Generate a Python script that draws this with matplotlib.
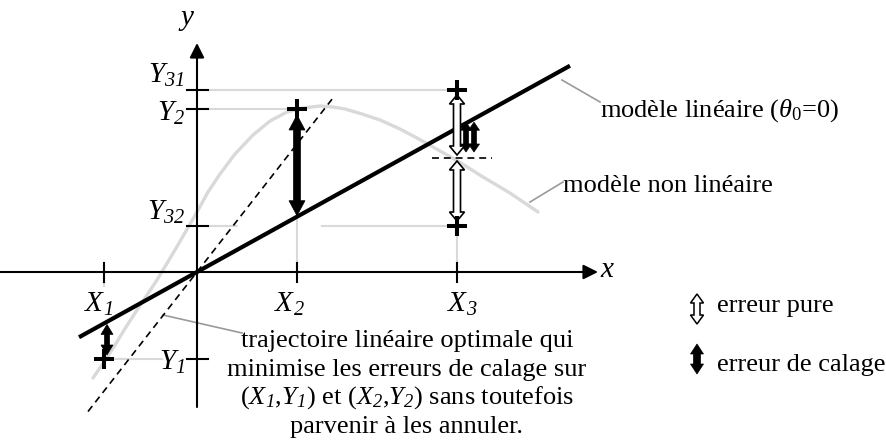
import matplotlib
matplotlib.use("Agg")
import matplotlib.pyplot as plt
from matplotlib.patches import Polygon

plt.rcParams["font.family"] = ["Liberation Serif", "DejaVu Serif"]
plt.rcParams["mathtext.fontset"] = "custom"
plt.rcParams["mathtext.rm"] = "Liberation Serif"
plt.rcParams["mathtext.it"] = "Liberation Serif:italic"
# \mathsf is used for fully italic labels (italic subscripts too)
plt.rcParams["mathtext.sf"] = "Liberation Serif:italic"
plt.rcParams["lines.scale_dashes"] = False

# observed points (X1,Y1), (X2,Y2), (X3,Y31), (X3,Y32)
X_VALS = [-93, 100, 260]
X_NAMES = [r"$\mathsf{X_1}$", r"$\mathsf{X_2}$", r"$\mathsf{X_3}$"]
Y_VALS = [182, 163, 46, -87]
Y_NAMES = [r"$\mathsf{Y_{31}}$", r"$\mathsf{Y_2}$", r"$\mathsf{Y_{32}}$", r"$\mathsf{Y_1}$"]
OBS_X = [-93, 100, 260, 260]
OBS_Y = [-87, 163, 182, 46]

# linear model y = theta1 * x, and the steeper trajectory (dashed)
THETA1 = 0.553
LIN_X = [-118, 373]
DASH_SLOPE = 1.28
DASH_X = [-109, 135]

# non-linear model
CURVE_X = [-104, -93, -82, -71, -60, -50, -40, -31, -22, -11, 0, 11, 23, 38,
           56, 73, 90, 106, 123, 136, 148, 165, 183, 203, 220, 236, 259, 286, 313, 341]
CURVE_Y = [-106, -90, -73, -55, -38, -23, -8, 7, 22, 41, 60, 80, 98, 118,
           137, 151, 160, 164, 166, 165, 163, 158, 152, 143, 134, 125, 112, 95, 79, 60]

LIGHT = "#d9d9d9"
LEAD = "#9a9a9a"


def double_arrow(ax, x, y0, y1, shaft, head, hlen, face, lw=1.0, z=6):
    pts = [(x - shaft / 2, y0 + hlen), (x - head / 2, y0 + hlen), (x, y0),
           (x + head / 2, y0 + hlen), (x + shaft / 2, y0 + hlen),
           (x + shaft / 2, y1 - hlen), (x + head / 2, y1 - hlen), (x, y1),
           (x - head / 2, y1 - hlen), (x - shaft / 2, y1 - hlen)]
    ax.add_patch(Polygon(pts, closed=True, facecolor=face, edgecolor="black",
                         lw=lw, joinstyle="miter", zorder=z))


fig = plt.figure(figsize=(8.87, 4.44), dpi=100)
ax = fig.add_axes([0, 0, 1, 1])
ax.set_xlim(-197, 690)
ax.set_ylim(-172, 272)
ax.axis("off")

# non-linear curve
ax.plot(CURVE_X, CURVE_Y, color=LIGHT, lw=2.4, solid_joinstyle="round",
        solid_capstyle="round", zorder=1)

# light guide lines
x1, x2, x3 = X_VALS
y31, y2, y32, y1 = Y_VALS
ax.plot([10, x3], [y31, y31], color=LIGHT, lw=1.5, zorder=1)
ax.plot([10, x2], [y2, y2], color=LIGHT, lw=1.5, zorder=1)
ax.plot([10, x3], [y32, y32], color=LIGHT, lw=1.5, zorder=1,
        linestyle=(0, (22, 60, 200, 0)))
ax.plot([x1, -35], [y1, y1], color=LIGHT, lw=1.5, zorder=1)
ax.plot([x2, x2], [0, y2], color=LIGHT, lw=1.5, zorder=1)
ax.plot([x3, x3], [0, y32], color=LIGHT, lw=1.5, zorder=1)
ax.plot([x1, x1], [0, -14], color=LIGHT, lw=1.5, zorder=1)

# axes with arrows
ax.annotate("", xy=(401, 0), xytext=(-197, 0),
            arrowprops=dict(arrowstyle="-|>", lw=1.5, color="black",
                            mutation_scale=22, shrinkA=0, shrinkB=0), zorder=3)
ax.annotate("", xy=(0, 229), xytext=(0, -135),
            arrowprops=dict(arrowstyle="-|>", lw=1.5, color="black",
                            mutation_scale=22, shrinkA=0, shrinkB=0), zorder=3)
ax.text(410, 2, "x", fontsize=21, style="italic", ha="center", va="center")
ax.text(-10, 254, "y", fontsize=21, style="italic", ha="center", va="center")

# ticks and tick labels
for xv, name, dx in zip(X_VALS, X_NAMES, [-5, -8, 5]):
    ax.plot([xv, xv], [-10, 9], color="black", lw=1.5, zorder=3)
    ax.text(xv + dx, -32, name, fontsize=21, ha="center", va="center")
for yv, name, dy in zip(Y_VALS, Y_NAMES, [15, -4, 14, -3]):
    ax.plot([-10, 11], [yv, yv], color="black", lw=1.5, zorder=3)
    ax.text(-12, yv + dy, name, fontsize=21, ha="right", va="center")

# dashed trajectory and linear model
ax.plot(DASH_X, [DASH_SLOPE * v for v in DASH_X], color="black", lw=1.2,
        linestyle=(0, (5, 3.5)), zorder=4)
ax.plot(LIN_X, [THETA1 * v for v in LIN_X], color="black", lw=3, zorder=4,
        solid_capstyle="butt")

# mean at X3
y3m = (y31 + y32) / 2
ax.plot([x3 - 25, x3 + 35], [y3m, y3m], color="black", lw=1.2,
        linestyle=(0, (5, 3.5)), zorder=4)

# pure error arrows (hollow)
double_arrow(ax, x3, y3m + 3, y31 - 5, 7, 15, 9, "white", lw=1.2)
double_arrow(ax, x3, y32 + 5, y3m - 3, 7, 15, 9, "white", lw=1.2)

# fitting error arrows (black)
double_arrow(ax, x2, THETA1 * x2 + 1, y2 - 6, 7, 16, 15, "black", lw=0.5)
double_arrow(ax, x1 + 3, y1 + 4, THETA1 * x1 - 1, 5, 12, 10, "black", lw=0.5)
lin3 = THETA1 * x3
for off in [9, 17]:
    double_arrow(ax, x3 + off, y3m + 6, lin3 + 6, 5, 11, 8, "black", lw=0.5, z=5)

# observation crosses
ax.plot(OBS_X, OBS_Y, linestyle="none", marker="+", markersize=14.5,
        mew=2.9, color="black", zorder=8)

# annotations with leader lines
ax.plot([365, 403], [192, 170], color=LEAD, lw=1.2, zorder=2)
ax.text(403, 155, r"modèle linéaire ($\theta_0$=0)", fontsize=19, ha="left",
        va="baseline")
ax.plot([333, 366], [70, 90], color=LEAD, lw=1.2, zorder=2)
ax.text(366, 80, "modèle non linéaire", fontsize=19, ha="left", va="baseline")
ax.plot([-34, 45], [-43, -61], color=LEAD, lw=1.2, zorder=2)

TRAJ_LINES = ["trajectoire linéaire optimale qui",
              "minimise les erreurs de calage sur",
              r"($\mathsf{X_1}$,$\mathsf{Y_1}$) et ($\mathsf{X_2}$,$\mathsf{Y_2}$) sans toutefois",
              "parvenir à les annuler."]
for i, line in enumerate(TRAJ_LINES):
    ax.text(210, -75 - 28.5 * i, line, fontsize=19, ha="center", va="baseline")

# legend
double_arrow(ax, 500, -52, -22, 6, 13, 9, "white", lw=1.1)
ax.text(520, -40, "erreur pure", fontsize=19, ha="left", va="baseline")
double_arrow(ax, 500, -102, -72, 7, 13, 10, "black", lw=0.5)
ax.text(520, -99, "erreur de calage", fontsize=19, ha="left", va="baseline")

fig.savefig("out.png", dpi=100)
